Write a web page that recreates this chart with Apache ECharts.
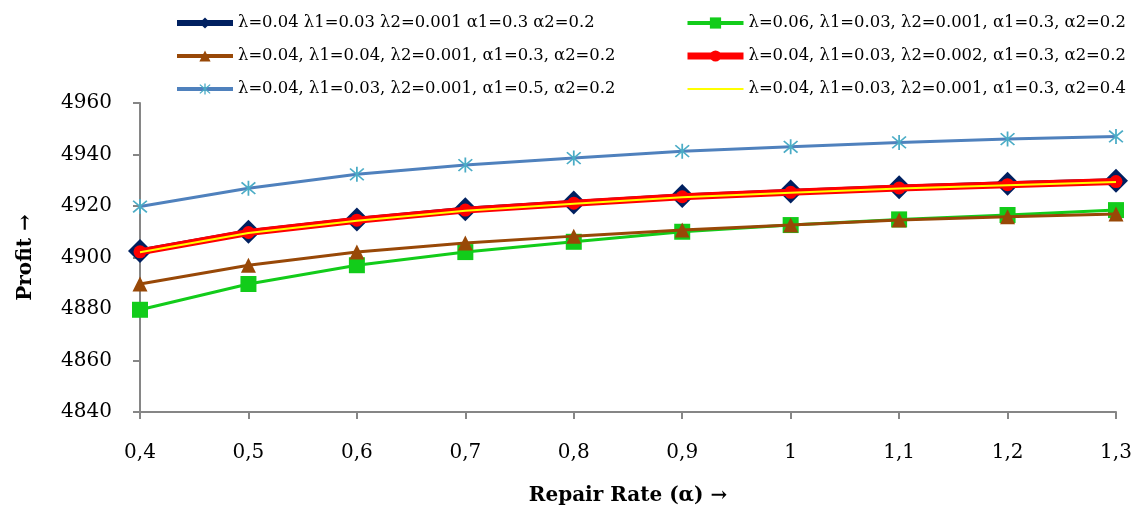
<!DOCTYPE html>
<html>
<head>
<meta charset="utf-8">
<script src="https://cdn.jsdelivr.net/npm/echarts@6/dist/echarts.min.js"></script>
<style>
  html, body { margin: 0; padding: 0; background: #fff; }
  #grafico { width: 1137px; height: 512px; }
</style>
</head>
<body>
<div id="grafico"></div>
<script>
// Datos
const tasas = ['0,4', '0,5', '0,6', '0,7', '0,8', '0,9', '1', '1,1', '1,2', '1,3'];

const nombres = [
    'λ=0.04 λ1=0.03 λ2=0.001 α1=0.3 α2=0.2',
    'λ=0.04, λ1=0.04, λ2=0.001, α1=0.3, α2=0.2',
    'λ=0.04, λ1=0.03, λ2=0.001, α1=0.5, α2=0.2',
    'λ=0.06, λ1=0.03, λ2=0.001, α1=0.3, α2=0.2',
    'λ=0.04, λ1=0.03, λ2=0.002, α1=0.3, α2=0.2',
    'λ=0.04, λ1=0.03, λ2=0.001, α1=0.3, α2=0.4'
];

const base = [4902.5, 4910.0, 4914.8, 4918.7, 4921.4, 4923.9, 4925.6, 4927.3, 4928.6, 4929.8];
const lambda1Alto = [4889.7, 4897.0, 4902.1, 4905.6, 4908.3, 4910.7, 4912.6, 4914.6, 4915.8, 4916.9];
const alpha1Alto = [4919.8, 4926.9, 4932.3, 4935.9, 4938.6, 4941.3, 4943.0, 4944.7, 4946.0, 4947.0];
const lambdaAlto = [4879.7, 4889.7, 4897.0, 4902.1, 4906.1, 4910.0, 4912.6, 4914.8, 4916.5, 4918.4];
const lambda2Alto = [4902.2, 4909.7, 4914.5, 4918.4, 4921.1, 4923.6, 4925.3, 4927.0, 4928.3, 4929.5];
const alpha2Alto = [4902.0, 4909.5, 4914.3, 4918.2, 4920.9, 4923.4, 4925.1, 4926.8, 4928.1, 4929.3];

// Marcador tipo asterisco (vertical + X)
const asterisco = 'path://M9,0 L11,0 L11,20 L9,20 Z M1.5,2.9 L2.9,1.5 L18.5,17.1 L17.1,18.5 Z M17.1,1.5 L18.5,2.9 L2.9,18.5 L1.5,17.1 Z';

const fuente = 'DejaVu Serif';
const gris = '#868686';

const estiloLeyenda = {
    orient: 'vertical',
    top: 10,
    itemGap: 17,
    itemWidth: 56,
    itemHeight: 14,
    textStyle: { fontFamily: fuente, fontSize: 16.4, color: '#000' }
};

const grafico = echarts.init(document.getElementById('grafico'));
grafico.setOption({
    animation: false,
    textStyle: { fontFamily: fuente },
    legend: [
        Object.assign({}, estiloLeyenda, {
            left: 169,
            data: [
                { name: nombres[0], lineStyle: { width: 6 } },
                { name: nombres[1], lineStyle: { width: 4 } },
                { name: nombres[2], lineStyle: { width: 4 } }
            ]
        }),
        Object.assign({}, estiloLeyenda, {
            left: 679,
            data: [
                { name: nombres[3], lineStyle: { width: 4 } },
                { name: nombres[4], lineStyle: { width: 7 } },
                { name: nombres[5], lineStyle: { width: 2 }, itemStyle: { opacity: 0 } }
            ]
        })
    ],
    grid: { left: 140, right: 21, top: 103, bottom: 100, outerBoundsMode: 'none' },
    xAxis: {
        type: 'category',
        data: tasas,
        boundaryGap: false,
        name: 'Repair Rate (α) →',
        nameLocation: 'middle',
        nameGap: 74,
        nameTextStyle: { fontFamily: fuente, fontSize: 20, fontWeight: 'bold', color: '#000' },
        axisLine: { lineStyle: { color: gris, width: 2 } },
        axisTick: { alignWithLabel: true, length: 7, lineStyle: { color: gris, width: 2 } },
        axisLabel: { fontFamily: fuente, fontSize: 20, color: '#000', margin: 31 }
    },
    yAxis: {
        type: 'value',
        min: 4840,
        max: 4960,
        interval: 20,
        name: 'Profit →',
        nameLocation: 'middle',
        nameGap: 104,
        nameTextStyle: { fontFamily: fuente, fontSize: 20, fontWeight: 'bold', color: '#000' },
        splitLine: { show: false },
        axisLine: { show: true, lineStyle: { color: gris, width: 2 } },
        axisTick: { show: true, length: 7, lineStyle: { color: gris, width: 2 } },
        axisLabel: { fontFamily: fuente, fontSize: 20, color: '#000', margin: 28, formatter: v => String(v) }
    },
    series: [
        {
            name: nombres[0],
            type: 'line',
            data: base,
            symbol: 'diamond',
            symbolSize: 24,
            lineStyle: { color: '#002060', width: 5 },
            itemStyle: { color: '#002060' },
            z: 2
        },
        {
            name: nombres[3],
            type: 'line',
            data: lambdaAlto,
            symbol: 'rect',
            symbolSize: 16,
            lineStyle: { color: '#12CC1A', width: 3 },
            itemStyle: { color: '#12CC1A' },
            z: 3
        },
        {
            name: nombres[1],
            type: 'line',
            data: lambda1Alto,
            symbol: 'triangle',
            symbolSize: 15,
            lineStyle: { color: '#984807', width: 3 },
            itemStyle: { color: '#984807' },
            z: 4
        },
        {
            name: nombres[2],
            type: 'line',
            data: alpha1Alto,
            symbol: asterisco,
            symbolSize: 15,
            lineStyle: { color: '#4F81BD', width: 3 },
            itemStyle: { color: '#4BACC6' },
            z: 5
        },
        {
            name: nombres[4],
            type: 'line',
            data: lambda2Alto,
            symbol: 'circle',
            symbolSize: 13,
            lineStyle: { color: '#FF0000', width: 7 },
            itemStyle: { color: '#FF0000' },
            z: 6
        },
        {
            name: nombres[5],
            type: 'line',
            data: alpha2Alto,
            symbol: 'none',
            lineStyle: { color: '#FFFF00', width: 2 },
            itemStyle: { color: '#FFFF00' },
            z: 7
        }
    ]
});
</script>
</body>
</html>
